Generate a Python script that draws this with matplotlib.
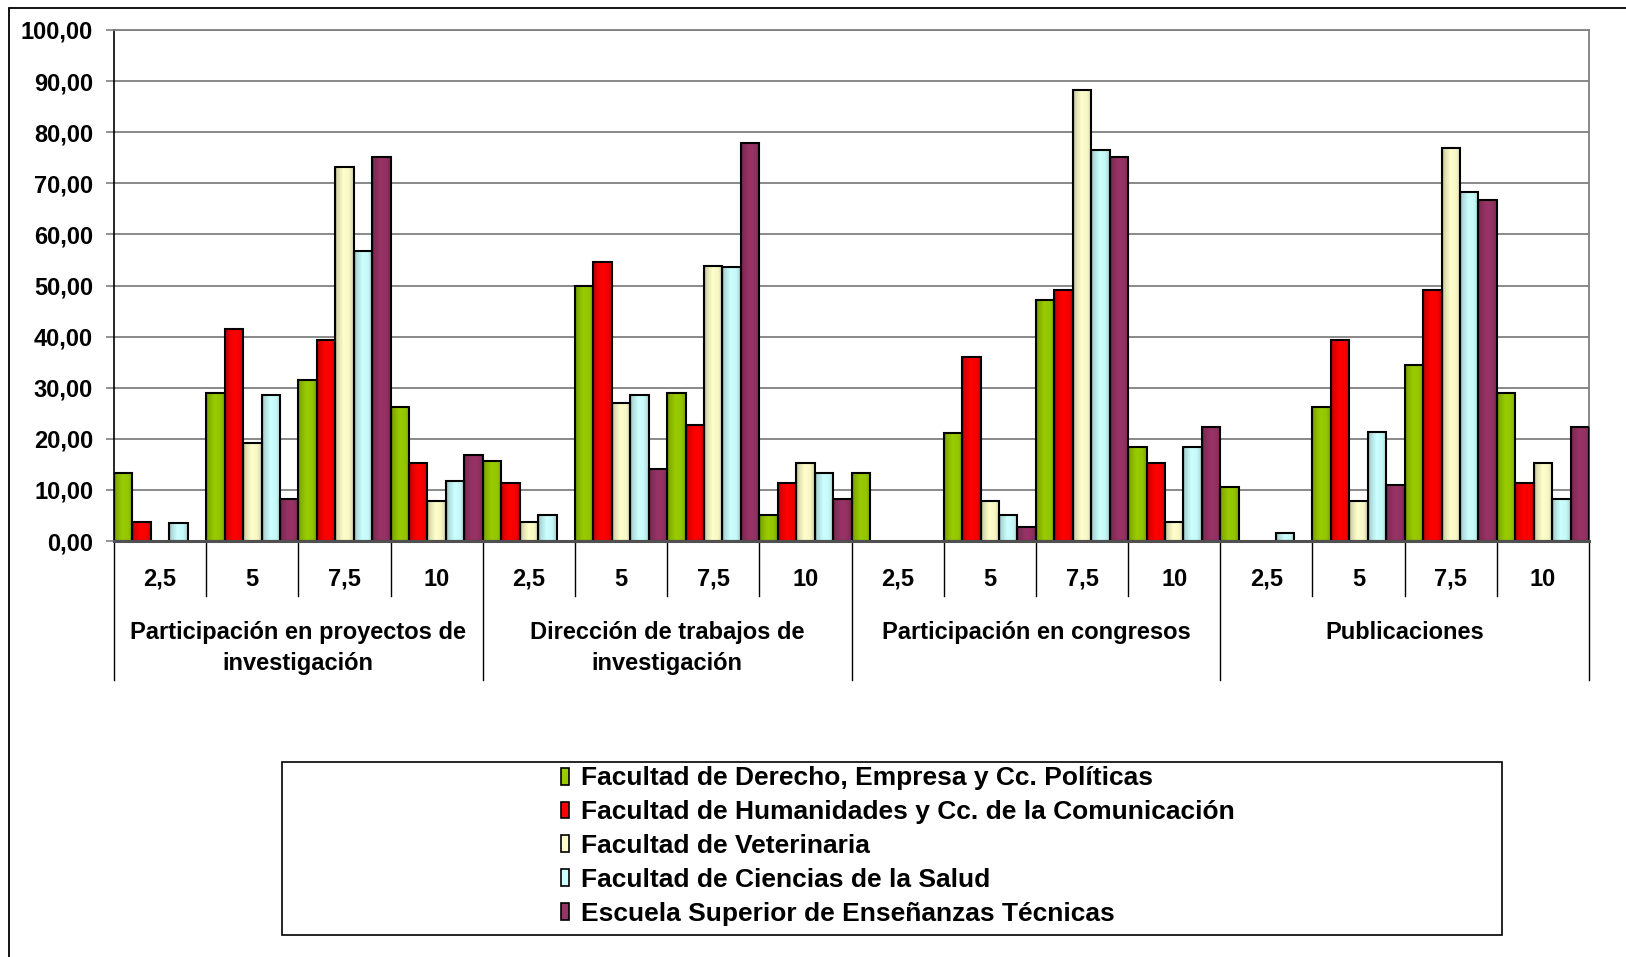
import numpy as np
import matplotlib
matplotlib.use("Agg")
import matplotlib.pyplot as plt
from matplotlib.patches import Rectangle
from matplotlib.colors import to_rgb
from matplotlib.ticker import FuncFormatter
import matplotlib.transforms as mtransforms

plt.rcParams['font.family'] = ['Liberation Sans', 'DejaVu Sans']
plt.rcParams['font.weight'] = 'bold'

groups = ["Participación en proyectos de\ninvestigación",
          "Dirección de trabajos de\ninvestigación",
          "Participación en congresos",
          "Publicaciones"]
scores = ["2,5", "5", "7,5", "10"]

series = ["Facultad de Derecho, Empresa y Cc. Políticas",
          "Facultad de Humanidades y Cc. de la Comunicación",
          "Facultad de Veterinaria",
          "Facultad de Ciencias de la Salud",
          "Escuela Superior de Enseñanzas Técnicas"]
colors = ["#99CC00", "#FF0000", "#FFFFCC", "#CCFFFF", "#993366"]

# 16 values per series: 4 groups x (2,5 / 5 / 7,5 / 10)
derecho = [13.3, 29.0, 31.6, 26.2, 15.6, 50.0, 28.9, 5.1,
           13.3, 21.1, 47.2, 18.4, 10.5, 26.2, 34.4, 28.9]
humanidades = [3.8, 41.4, 39.4, 15.2, 11.3, 54.6, 22.7, 11.3,
               0.0, 36.0, 49.2, 15.2, 0.0, 39.4, 49.2, 11.3]
veterinaria = [0.0, 19.2, 73.1, 7.8, 3.8, 27.0, 53.9, 15.2,
               0.0, 7.8, 88.3, 3.8, 0.0, 7.8, 77.0, 15.2]
salud = [3.5, 28.6, 56.7, 11.7, 5.1, 28.5, 53.6, 13.3,
         0.0, 5.1, 76.6, 18.4, 1.5, 21.4, 68.3, 8.2]
escuela = [0.0, 8.2, 75.2, 16.8, 0.0, 14.0, 77.8, 8.2,
           0.0, 2.7, 75.1, 22.3, 0.0, 11.0, 66.8, 22.3]
values = [derecho, humanidades, veterinaria, salud, escuela]

FS = 17
LFS = 19

W, H = 1626, 957
fig = plt.figure(figsize=(W / 100, H / 100), dpi=100)
ax_l, ax_r, ax_t, ax_b = 114, 1589, 30, 541
ax = fig.add_axes([ax_l / W, 1 - ax_b / H, (ax_r - ax_l) / W, (ax_b - ax_t) / H])
ah = ax_b - ax_t

n = len(scores) * len(groups)
x = np.arange(n)
w = 0.2


def shade(c):
    # cylinder-like shading: dark left edge, light middle, slightly dark right
    base = np.array(to_rgb(c))
    t = np.linspace(0, 1, 64)
    f = np.interp(t, [0, 0.12, 0.45, 0.75, 1.0], [0.62, 0.85, 1.0, 0.97, 0.82])
    img = np.clip(base[None, :] * f[:, None], 0, 1)
    return img[None, :, :]


for k, (vals, c) in enumerate(zip(values, colors)):
    bars = ax.bar(x - 0.5 + w / 2 + k * w, vals, width=w, color=c,
                  edgecolor="black", linewidth=1.5, zorder=3, label=series[k])
    for b in bars:
        if b.get_height() <= 0:
            b.set_visible(False)
            continue
        x0, y0 = b.get_x(), b.get_y()
        im = ax.imshow(shade(c), extent=(x0, x0 + b.get_width(), y0, y0 + b.get_height()),
                       aspect="auto", zorder=2.9, interpolation="bilinear")
        im.set_clip_path(b)
        b.set_facecolor("none")

ax.set_xlim(-0.5, n - 0.5)
ax.set_ylim(0, 100)
ax.set_yticks(np.arange(0, 101, 10))
ax.yaxis.set_major_formatter(FuncFormatter(lambda v, p: f"{v:.2f}".replace(".", ",")))
ax.tick_params(axis="y", labelsize=FS, length=6, width=1.2, color="#808080", pad=9)
for lab in ax.get_yticklabels():
    lab.set_fontweight("bold")
ax.set_xticks([])
ax.grid(axis="y", color="#808080", linewidth=1.3, zorder=0)
ax.set_axisbelow(True)
for s in ["top", "right"]:
    ax.spines[s].set_color("#808080")
    ax.spines[s].set_linewidth(1.3)
ax.spines["left"].set_color("black")
ax.spines["left"].set_linewidth(1.2)
ax.spines["bottom"].set_color("#505050")
ax.spines["bottom"].set_linewidth(2.2)
ax.spines["bottom"].set_zorder(4)

# two-level category axis
trans = mtransforms.blended_transform_factory(ax.transData, ax.transAxes)
for i in range(n + 1):
    xb = i - 0.5
    bottom = (ax_b - 680) / ah if i % 4 == 0 else (ax_b - 596) / ah
    ax.plot([xb, xb], [0, bottom], color="black", linewidth=1,
            transform=trans, clip_on=False)
for i in range(n):
    ax.text(i, (ax_b - 579) / ah, scores[i % 4], transform=trans, ha="center", va="center",
            fontsize=FS, fontweight="bold")
for g, name in enumerate(groups):
    ax.text(g * 4 + 1.5, (ax_b - 621) / ah, name, transform=trans, ha="center", va="top",
            fontsize=FS, fontweight="bold", linespacing=1.47)

# outer chart border
fig.add_artist(Rectangle((9 / W, -0.2), 1.2, 1 - 8 / H + 0.2,
                         transform=fig.transFigure, fill=False,
                         edgecolor="black", linewidth=1.3))

# legend box
lx0, ly0, lx1, ly1 = 282, 762, 1502, 935
fig.add_artist(Rectangle((lx0 / W, 1 - ly1 / H), (lx1 - lx0) / W, (ly1 - ly0) / H,
                         transform=fig.transFigure, fill=False,
                         edgecolor="black", linewidth=1.2))
leg = ax.legend(loc="center", bbox_to_anchor=(898 / W, 1 - 846 / H),
                bbox_transform=fig.transFigure, frameon=False,
                prop={"weight": "bold", "size": LFS}, handlelength=0.3, handleheight=0.6,
                handletextpad=0.45, labelspacing=0.37, borderpad=0)
for h, c in zip(leg.legend_handles, colors):
    h.set_visible(True)
    h.set_facecolor(c)
    h.set_edgecolor("black")
    h.set_linewidth(1.2)

fig.savefig("out.png", dpi=100)
